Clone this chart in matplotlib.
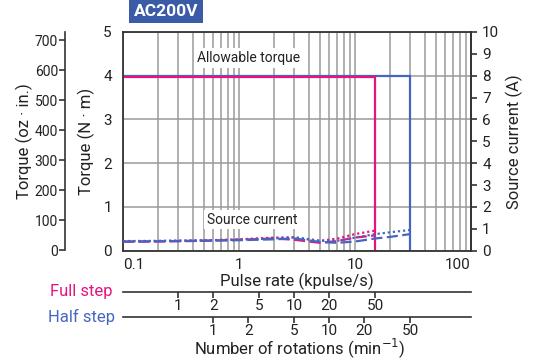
import matplotlib
matplotlib.use("Agg")
import matplotlib.pyplot as plt
import numpy as np

plt.rcParams['font.family'] = ['Roboto', 'DejaVu Sans']

PINK = '#e6157e'
BLUE = '#4466c2'
GRID = '#9a9a9a'
DARK = '#333333'
TXT = '#222222'

# ---- data ----
title = 'AC200V'
full_max_rate = 15      # kpulse/s
half_max_rate = 30      # kpulse/s
full_torque = 3.97      # N·m
half_torque = 4.0       # N·m

full_rate = [0.1, 0.2, 0.5, 1, 2, 3, 5, 7, 10, 15]
full_cur_dotted = [0.43, 0.44, 0.47, 0.52, 0.6, 0.6, 0.45, 0.55, 0.76, 0.92]
full_cur_dashed = [0.41, 0.42, 0.45, 0.5, 0.56, 0.5, 0.36, 0.44, 0.6, 0.7]

half_rate = [0.1, 0.2, 0.5, 1, 2, 3, 5, 7, 10, 15, 20, 30]
half_cur_dotted = [0.44, 0.45, 0.47, 0.5, 0.56, 0.62, 0.45, 0.45, 0.6, 0.76, 0.84, 0.95]
half_cur_dashed = [0.42, 0.43, 0.46, 0.48, 0.52, 0.56, 0.4, 0.36, 0.42, 0.56, 0.63, 0.76]

rate_ticks = [0.1, 1, 10, 100]
rate_labels = ['0.1', '1', '10', '100']
torque_ticks = [0, 1, 2, 3, 4, 5]
ozin_ticks = [0, 100, 200, 300, 400, 500, 600, 700]
current_ticks = list(range(0, 11))

full_rpm = [1, 2, 5, 10, 20, 50]
half_rpm = [1, 2, 5, 10, 20, 50]
full_k = 0.3   # kpulse/s per rotation unit (full step)
half_k = 0.6   # kpulse/s per rotation unit (half step)

W, H = 536, 360
fig = plt.figure(figsize=(W / 100, H / 100), dpi=100)

def rect(x0, y0, x1, y1):
    return [x0 / W, 1 - y1 / H, (x1 - x0) / W, (y1 - y0) / H]

# ---- main axes ----
ax = fig.add_axes(rect(123, 32, 471, 250.7))
ax.set_xscale('log')
ax.set_xlim(0.1, 100)
ax.set_ylim(0, 5)
ax.set_xticks(rate_ticks)
ax.set_xticklabels(rate_labels)
ax.xaxis.set_minor_formatter(matplotlib.ticker.NullFormatter())
ax.set_yticks(torque_ticks)
ax.tick_params(axis='both', which='both', length=0, labelsize=11, colors=TXT)
ax.tick_params(axis='x', pad=5)
ax.tick_params(axis='y', pad=8)
ax.grid(True, which='both', axis='x', color=GRID, lw=1.1)
ax.grid(True, which='major', axis='y', color=GRID, lw=1.1)
ax.set_axisbelow(True)
for s in ax.spines.values():
    s.set_color(DARK)
    s.set_linewidth(1.3)
labs = ax.get_xticklabels()
labs[0].set_ha('left')
labs[-1].set_ha('right')
ax.set_xlabel('Pulse rate (kpulse/s)', fontsize=12, labelpad=1, color=TXT)
ax.set_ylabel('Torque (N · m)', fontsize=12, labelpad=6, color=TXT)

# torque lines
ax.plot([0.1, half_max_rate, half_max_rate], [half_torque, half_torque, 0], color=BLUE, lw=1.6, solid_joinstyle='miter')
ax.plot([0.1, full_max_rate, full_max_rate], [full_torque, full_torque, 0], color=PINK, lw=1.6, solid_joinstyle='miter')

ax.text(1.2, 4.41, 'Allowable torque', ha='center', va='center', fontsize=10,
        color=TXT, bbox=dict(facecolor='white', edgecolor='none', pad=2))
ax.text(1.3, 0.71, 'Source current', ha='center', va='center', fontsize=10,
        color=TXT, bbox=dict(facecolor='white', edgecolor='none', pad=2))

# ---- current axis (right) ----
axr = ax.twinx()
axr.set_ylim(0, 10)
axr.set_yticks(current_ticks)
axr.tick_params(axis='y', length=4, width=1.2, color=DARK, labelsize=11, labelcolor=TXT, pad=4)
for s in ['top', 'left', 'bottom']:
    axr.spines[s].set_visible(False)
axr.spines['right'].set_color(DARK)
axr.spines['right'].set_linewidth(1.3)
axr.set_ylabel('Source current (A)', fontsize=12, labelpad=5, color=TXT)
axr.plot(full_rate, full_cur_dotted, color=PINK, lw=1.6, ls=(0, (1, 1.3)))
axr.plot(full_rate, full_cur_dashed, color=PINK, lw=1.6, ls=(0, (5, 2)))
axr.plot(half_rate, half_cur_dotted, color=BLUE, lw=1.6, ls=(0, (1, 1.3)))
axr.plot(half_rate, half_cur_dashed, color=BLUE, lw=1.6, ls=(0, (5, 2)))

# ---- oz·in axis (far left) ----
axo = fig.add_axes(rect(65, 32, 66, 250))
axo.set_ylim(0, 727)
axo.set_yticks(ozin_ticks)
axo.set_xticks([])
for s in ['top', 'right', 'bottom']:
    axo.spines[s].set_visible(False)
axo.patch.set_visible(False)
axo.spines['left'].set_color(DARK)
axo.spines['left'].set_linewidth(1.2)
axo.tick_params(axis='y', length=4, width=1.2, color=DARK, labelsize=10, labelcolor=TXT, pad=1)
axo.set_ylabel('Torque (oz · in.)', fontsize=12, labelpad=1, color=TXT)

# ---- rotation scales ----
def rot_axis(y, rpm, k, label, color):
    a = fig.add_axes(rect(123, y - 1, 471, y))
    a.set_xscale('log')
    a.set_xlim(0.1, 100)
    a.set_yticks([])
    a.set_xticks([r * k for r in rpm])
    a.set_xticklabels([str(r) for r in rpm])
    a.xaxis.set_minor_locator(matplotlib.ticker.NullLocator())
    a.tick_params(axis='x', length=4, width=1.2, color=DARK, labelsize=11, labelcolor=TXT, pad=1)
    for s in ['top', 'left', 'right']:
        a.spines[s].set_visible(False)
    a.spines['bottom'].set_color(DARK)
    a.spines['bottom'].set_linewidth(1.2)
    a.patch.set_visible(False)
    fig.text(81 / W, 1 - y / H, label, color=color, fontsize=12, ha='center', va='center')
    return a

rot_axis(291.7, full_rpm, full_k, 'Full step', PINK)
rot_axis(316.7, half_rpm, half_k, 'Half step', BLUE)
fig.text(300 / W, 1 - 348 / H, 'Number of rotations (min$^{-1}$)', fontsize=12,
         ha='center', va='center', color=TXT)

# ---- title ----
fig.text(166 / W, 1 - 11 / H, title, fontsize=12.5, fontweight='bold', color='white',
         ha='center', va='center',
         bbox=dict(facecolor='#3b5ba7', edgecolor='none', boxstyle='square,pad=0.25'))

fig.savefig('out.png', dpi=100)
